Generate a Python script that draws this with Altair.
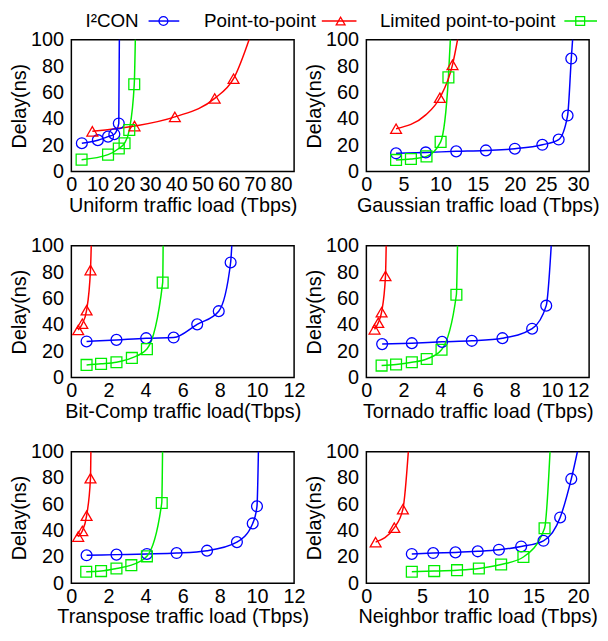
import altair as alt
import pandas as pd

FONT = "Liberation Sans"
SERIES = ["I2CON", "Point-to-point", "Limited point-to-point"]
LEGEND_LABELS = ["I\u00b2CON", "Point-to-point", "Limited point-to-point"]
COLORS = ["#0000ff", "#ff0000", "#00ee00"]
SHAPES = ["circle", "triangle-up", "square"]

# ---------- Uniform ----------
uni_i2con_x = [4.0, 10.1, 14.0, 16.4, 18.1]
uni_i2con_y = [21.5, 23.8, 26.5, 28.3, 36.5]
uni_p2p_x = [8.0, 24.1, 39.5, 54.7, 61.9]
uni_p2p_y = [30.5, 34.5, 41.5, 55.5, 70.5]
uni_lp2p_x = [3.9, 14.0, 18.1, 20.3, 22.1, 24.0]
uni_lp2p_y = [9.0, 12.8, 17.5, 21.5, 31.5, 66.3]

# ---------- Gaussian ----------
gau_i2con_x = [4.0, 8.0, 12.1, 16.1, 20.0, 23.7, 25.9, 27.1, 27.6]
gau_i2con_y = [13.8, 14.5, 15.3, 16.0, 17.3, 20.3, 24.3, 42.5, 85.8]
gau_p2p_x = [4.0, 9.9, 11.6]
gau_p2p_y = [32.5, 56.0, 81.0]
gau_lp2p_x = [4.0, 6.0, 8.1, 10.0, 11.05]
gau_lp2p_y = [8.8, 9.5, 11.5, 22.5, 71.5]

# ---------- Bit-Comp ----------
bit_i2con_x = [0.82, 2.43, 4.03, 5.51, 6.78, 7.94, 8.58]
bit_i2con_y = [27.3, 28.5, 29.8, 30.3, 40.3, 50.3, 87.3]
bit_p2p_x = [0.37, 0.59, 0.82, 1.03]
bit_p2p_y = [36.0, 40.8, 51.0, 81.5]
bit_lp2p_x = [0.82, 1.6, 2.43, 3.26, 4.07, 4.92]
bit_lp2p_y = [9.5, 10.3, 11.5, 14.8, 21.5, 72.0]

# ---------- Tornado ----------
tor_i2con_x = [0.85, 2.45, 4.08, 5.68, 7.33, 8.93, 9.69]
tor_i2con_y = [25.3, 26.0, 27.0, 27.8, 29.8, 37.0, 54.5]
tor_p2p_x = [0.44, 0.64, 0.82, 1.03]
tor_p2p_y = [36.5, 41.5, 49.5, 77.0]
tor_lp2p_x = [0.82, 1.6, 2.45, 3.25, 4.05, 4.85]
tor_lp2p_y = [9.0, 9.8, 11.5, 14.0, 21.0, 62.8]

# ---------- Transpose ----------
tra_i2con_x = [0.82, 2.43, 4.07, 5.67, 7.31, 8.92, 9.77, 10.0]
tra_i2con_y = [21.3, 21.8, 22.3, 23.0, 24.8, 31.3, 45.5, 58.5]
tra_p2p_x = [0.37, 0.59, 0.82, 1.03]
tra_p2p_y = [35.5, 39.8, 51.3, 79.8]
tra_lp2p_x = [0.8, 1.6, 2.43, 3.23, 4.07, 4.87]
tra_lp2p_y = [8.8, 9.3, 11.3, 13.8, 20.5, 61.0]

# ---------- Neighbor ----------
nei_i2con_x = [4.08, 6.0, 8.0, 10.0, 11.9, 13.9, 15.9, 17.4, 18.4]
nei_i2con_y = [22.3, 23.0, 23.5, 24.3, 25.5, 28.0, 32.3, 50.0, 79.3]
nei_p2p_x = [0.83, 2.51, 3.28]
nei_p2p_y = [31.3, 42.3, 56.3]
nei_lp2p_x = [4.08, 6.09, 8.14, 10.1, 12.1, 14.1, 16.0]
nei_lp2p_y = [8.8, 9.3, 10.0, 11.3, 14.3, 20.0, 41.8]

# unmarked curve points (the curves leave the frame at the top)
uni_curve = {"I2CON": ([], [], 18.35, 110), "Point-to-point": ([], [], 69.5, 110),
             "Limited point-to-point": ([], [], 24.5, 110)}
gau_curve = {"I2CON": ([], [], 27.9, 110), "Point-to-point": ([8.0], [43.0], 12.6, 110),
             "Limited point-to-point": ([], [], 11.4, 110)}
bit_curve = {"I2CON": ([], [], 8.68, 110), "Point-to-point": ([], [], 1.09, 110),
             "Limited point-to-point": ([], [], 4.95, 110)}
tor_curve = {"I2CON": ([], [], 10.0, 110), "Point-to-point": ([], [], 1.08, 110),
             "Limited point-to-point": ([], [], 4.92, 110)}
tra_curve = {"I2CON": ([], [], 10.09, 110), "Point-to-point": ([], [], 1.06, 110),
             "Limited point-to-point": ([], [], 4.92, 110)}
nei_curve = {"I2CON": ([], [], 19.2, 110), "Point-to-point": ([], [], 3.85, 110),
             "Limited point-to-point": ([], [], 16.55, 110)}

PANELS = [
    ("Uniform traffic load (Tbps)", 85, 10, 80,
     [(uni_i2con_x, uni_i2con_y), (uni_p2p_x, uni_p2p_y), (uni_lp2p_x, uni_lp2p_y)], uni_curve),
    ("Gaussian traffic load (Tbps)", 30, 5, 30,
     [(gau_i2con_x, gau_i2con_y), (gau_p2p_x, gau_p2p_y), (gau_lp2p_x, gau_lp2p_y)], gau_curve),
    ("Bit-Comp traffic load(Tbps)", 12, 2, 12,
     [(bit_i2con_x, bit_i2con_y), (bit_p2p_x, bit_p2p_y), (bit_lp2p_x, bit_lp2p_y)], bit_curve),
    ("Tornado traffic load (Tbps)", 12, 2, 12,
     [(tor_i2con_x, tor_i2con_y), (tor_p2p_x, tor_p2p_y), (tor_lp2p_x, tor_lp2p_y)], tor_curve),
    ("Transpose traffic load (Tbps)", 12, 2, 12,
     [(tra_i2con_x, tra_i2con_y), (tra_p2p_x, tra_p2p_y), (tra_lp2p_x, tra_lp2p_y)], tra_curve),
    ("Neighbor traffic load (Tbps)", 20, 5, 20,
     [(nei_i2con_x, nei_i2con_y), (nei_p2p_x, nei_p2p_y), (nei_lp2p_x, nei_lp2p_y)], nei_curve),
]

W, H = 225, 133
color_scale = alt.Scale(domain=SERIES, range=COLORS)
shape_scale = alt.Scale(domain=SERIES, range=SHAPES)

# ---------- key (drawn like gnuplot: label, then sample), placed above the first panel ----------
leg_df = pd.DataFrame({"s": SERIES, "label": LEGEND_LABELS})
leg_text_x = [68, 247, 489]
leg_line = [(78, 109), (253, 288), (498, 531)]
leg_mark_x = [93, 272, 514]
LEG_Y = -19


def legend_layers():
    out = []
    for i, name in enumerate(SERIES):
        d = leg_df[leg_df.s == name]
        out.append(alt.Chart(d).mark_text(align="right", baseline="middle", font=FONT,
                                          fontSize=19, color="black").encode(
            x=alt.value(leg_text_x[i]), y=alt.value(LEG_Y), text="label:N"))
        out.append(alt.Chart(d).mark_rule(strokeWidth=1.5, color=COLORS[i]).encode(
            x=alt.value(leg_line[i][0]), x2=alt.value(leg_line[i][1]), y=alt.value(LEG_Y)))
        out.append(alt.Chart(d).mark_point(shape=SHAPES[i], filled=False, size=80,
                                           strokeWidth=1.3, color=COLORS[i], opacity=1).encode(
            x=alt.value(leg_mark_x[i]), y=alt.value(LEG_Y)))
    return out


def panel(idx, title, xmax, step, last, series, curve):
    pts, lines = [], []
    for name, (xs, ys) in zip(SERIES, series):
        for x, y in zip(xs, ys):
            pts.append({"s": name, "x": x, "y": y})
            lines.append({"s": name, "x": x, "y": y})
        ex, ey, tx, ty = curve[name]
        for x, y in zip(ex, ey):
            lines.append({"s": name, "x": x, "y": y})
        lines.append({"s": name, "x": tx, "y": ty})
    pdf = pd.DataFrame(pts)
    ldf = pd.DataFrame(lines).sort_values(["s", "x"])
    extra = {}
    if idx % 2 == 1:
        extra["labelAlign"] = {"condition": {"test": f"datum.value >= {last}", "value": "right"},
                               "value": "center"}
    if idx == 1:
        extra["labelOffset"] = {"condition": {"test": "datum.value == 25", "value": -6},
                                "value": 0}
    xenc = alt.X("x:Q", scale=alt.Scale(domain=[0, xmax], nice=False, zero=False),
                 axis=alt.Axis(title=title, values=list(range(0, last + 1, step)),
                               labelFlush=False, labelOverlap=False,
                               ticks=False, domain=False, grid=False,
                               labelPadding=3, titlePadding=1, **extra))
    yenc = alt.Y("y:Q", scale=alt.Scale(domain=[0, 100], nice=False),
                 axis=alt.Axis(title="Delay(ns)", values=[0, 20, 40, 60, 80, 100],
                               labelOverlap=False, labelFlush=False,
                               ticks=False, domain=False, grid=False,
                               labelPadding=8, titlePadding=1))
    line = alt.Chart(ldf).mark_line(clip=True, interpolate="monotone", strokeWidth=1.5).encode(
        x=xenc, y=yenc,
        color=alt.Color("s:N", scale=color_scale, legend=None),
        detail="s:N", order="x:Q")
    point = alt.Chart(pdf).mark_point(filled=False, size=120, strokeWidth=1.3, opacity=1).encode(
        x=xenc, y=yenc,
        color=alt.Color("s:N", scale=color_scale, legend=None),
        shape=alt.Shape("s:N", scale=shape_scale, legend=None))
    layers = [line, point]
    if idx == 0:
        layers += legend_layers()
    return alt.layer(*layers).properties(width=W, height=H)


panels = [panel(i, *p) for i, p in enumerate(PANELS)]
chart = alt.concat(*panels, columns=2, bounds="flush",
                   spacing=alt.RowColnumber(row=75, column=73)).properties(padding=0).configure(
    font=FONT
).configure_view(stroke="black", strokeWidth=1.5).configure_axis(
    labelFont=FONT, titleFont=FONT, labelFontSize=20, titleFontSize=20,
    labelColor="black", titleColor="black", titleFontWeight="normal",
    labelFlush=False, labelOverlap=False
)

chart.save("out.html", embed_options={"renderer": "svg", "actions": False})
